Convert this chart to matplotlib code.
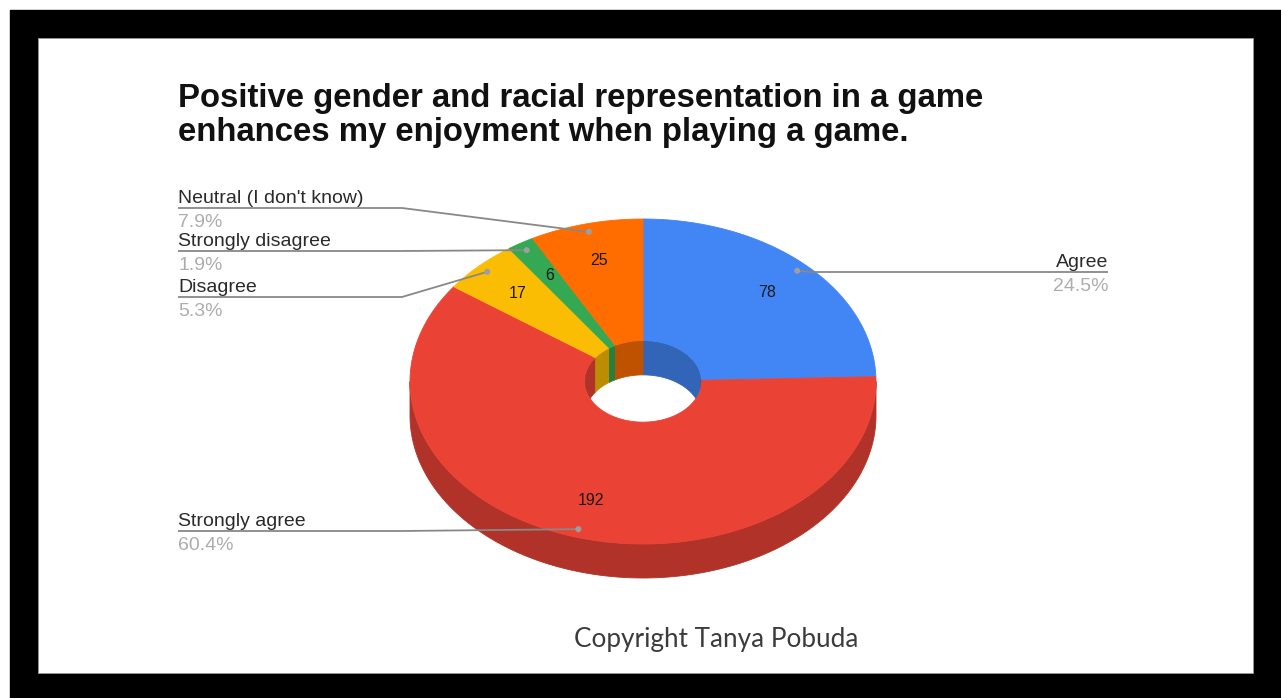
import numpy as np
import matplotlib
matplotlib.use("Agg")
import matplotlib.pyplot as plt
from matplotlib.patches import Polygon, Rectangle, Ellipse, Circle
from matplotlib.colors import to_rgb

# ---- data -------------------------------------------------------------
categories = ["Agree", "Strongly agree", "Disagree", "Strongly disagree",
              "Neutral (I don't know)"]
counts = [78, 192, 17, 6, 25]
colors = ["#4285F4", "#EA4335", "#FBBC04", "#34A853", "#FF6D01"]

title_lines = ["Positive gender and racial representation in a game",
               "enhances my enjoyment when playing a game."]
credit = "Copyright Tanya Pobuda"

# ---- layout -----------------------------------------------------------
W, H = 1281, 698
cx, cy = 643, 381.5          # centre of the top face
rx, ry = 233, 162.5          # outer radii of the tilted disc
hole = 0.25                  # hole radius as a fraction of the outer radius
depth = 34                   # thickness of the disc
label_r = 0.765              # radius of value labels
dot_r = 0.95                 # radius of leader-line anchor dots
line_y = {"Neutral (I don't know)": 208, "Strongly disagree": 251,
          "Disagree": 297, "Strongly agree": 531, "Agree": 272}
left_x, elbow_x, right_x = 178, 402, 1108

fig = plt.figure(figsize=(W / 100, H / 100), dpi=100)
ax = fig.add_axes([0, 0, 1, 1])
ax.set_xlim(0, W)
ax.set_ylim(H, 0)
ax.axis("off")

# black picture frame
ax.add_patch(Rectangle((10, 10), W - 10, H - 10, color="black", zorder=0))
ax.add_patch(Rectangle((38, 38), 1215, 635, facecolor="white",
                       edgecolor="#999999", lw=0.6, zorder=0.5))


def pt(theta, frac=1.0, dy=0.0):
    t = np.radians(theta)
    return cx + frac * rx * np.sin(t), cy - frac * ry * np.cos(t) + dy


def arc(a, b, frac=1.0, dy=0.0, n=None):
    n = n or max(int(abs(b - a) * 2), 4)
    th = np.linspace(a, b, n)
    x, y = pt(th, frac, dy)
    return np.column_stack([x, y])


def shade(c, k=0.75):
    return tuple(v * k for v in to_rgb(c))


total = sum(counts)
bounds = np.concatenate([[0], np.cumsum(counts) / total * 360])
spans = list(zip(bounds[:-1], bounds[1:]))

# outer side wall (front half of the disc)
for (a, b), col in zip(spans, colors):
    lo, hi = max(a, 90), min(b, 270)
    if hi > lo:
        top = arc(lo, hi)
        bot = arc(lo, hi, dy=depth)[::-1]
        ax.add_patch(Polygon(np.vstack([top, bot]), closed=True,
                             facecolor=shade(col), edgecolor=shade(col),
                             lw=0.6, zorder=1))

# top faces
for (a, b), col in zip(spans, colors):
    outer = arc(a, b)
    inner = arc(a, b, frac=hole)[::-1]
    ax.add_patch(Polygon(np.vstack([outer, inner]), closed=True,
                         facecolor=col, edgecolor=col, lw=0.6, zorder=2))

# inner wall of the hole (far half)
hole_clip = Ellipse((cx, cy), 2 * rx * hole, 2 * ry * hole,
                    transform=ax.transData, facecolor="none", edgecolor="none")
ax.add_patch(hole_clip)
for (a, b), col in zip(spans, colors):
    for lo, hi in ((max(a, 0), min(b, 90)), (max(a, 270), min(b, 360))):
        if hi > lo:
            top = arc(lo, hi, frac=hole)
            bot = arc(lo, hi, frac=hole, dy=depth)[::-1]
            p = Polygon(np.vstack([top, bot]), closed=True,
                        facecolor=shade(col), edgecolor=shade(col),
                        lw=0.6, zorder=3)
            ax.add_patch(p)
            p.set_clip_path(hole_clip)

# value labels and leader lines
label_font = dict(family="Liberation Sans", fontsize=14)
for cat, val, (a, b) in zip(categories, counts, spans):
    mid = (a + b) / 2
    vx, vy = pt(mid, label_r)
    ax.text(vx, vy, str(val), ha="center", va="center", fontsize=11.5,
            family="Liberation Sans", color="#1a1a1a", zorder=5)

    dx, dy = pt(mid, dot_r)
    ly = line_y[cat]
    pct = f"{100 * val / total:.1f}%"
    if dx > cx:
        ax.plot([dx, dx + 15, right_x], [dy, ly, ly], color="#888888",
                lw=1.3, zorder=4, solid_capstyle="butt")
        ax.text(right_x, ly - 5, cat, ha="right", va="baseline",
                color="#2a2a2a", **label_font)
        ax.text(right_x, ly + 19, pct, ha="right", va="baseline",
                color="#adadad", **label_font)
    else:
        ax.plot([left_x, elbow_x, dx], [ly, ly, dy], color="#888888",
                lw=1.3, zorder=4, solid_capstyle="butt")
        ax.text(left_x, ly - 5, cat, ha="left", va="baseline",
                color="#2a2a2a", **label_font)
        ax.text(left_x, ly + 19, pct, ha="left", va="baseline",
                color="#adadad", **label_font)
    ax.add_patch(Circle((dx, dy), 3, facecolor="#9e9e9e",
                        edgecolor="none", zorder=4.5))

# title
for i, line in enumerate(title_lines):
    ax.text(178, 107 + 34 * i, line, ha="left", va="baseline",
            family="Liberation Sans", fontweight="bold", fontsize=23.7,
            color="#111111")

# credit line
ax.text(716, 647, credit, ha="center", va="baseline", family="Lato",
        fontsize=18.8, color="#3c3c3c")

fig.savefig("out.png", dpi=100, facecolor="white")
